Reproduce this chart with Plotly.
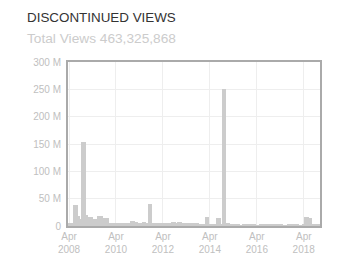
import plotly.graph_objects as go
import pandas as pd

title_text = "DISCONTINUED VIEWS"
subtitle_text = "Total Views 463,325,868"

# monthly views (millions), starting Apr 2008
start_month = "2008-04-01"
views_m = (
    [5, 5, 5, 39, 39, 18.5, 12, 153, 153, 20,
     16, 16, 16, 13, 13, 18, 18, 18, 14, 14,
     14, 5.5, 5.5, 5.5, 5.5, 5.5, 6, 6, 6, 6,
     6, 6, 10, 10, 7.5, 7.5, 5, 5, 7, 7,
     5, 41, 41, 5, 5, 5, 5, 5, 5, 5,
     6, 6, 6, 7.5, 7.5, 5, 7.5, 7.5, 5.5, 5.5,
     5.5, 5.5, 5.5, 5.5, 5, 5, 5, 3, 3, 3,
     17, 17, 3, 2, 2, 2, 14, 14, 2.5, 251,
     251, 6, 6, 2.5, 2.5, 2, 2.2, 2, 1.8, 2,
     2.2, 2.5, 2.5, 2.2, 2, 2, 1.8, 1.8, 2, 2,
     2.2, 2.5, 2.5, 2.2, 2, 2, 2, 2.2, 2.2, 2,
     1.8, 1.8, 2, 2.2, 2.5, 2.5, 2.2, 2, 1.8, 1.8,
     2, 17, 17, 14, 14, 2, 2, 2, 2]
)
months = pd.date_range(start_month, periods=len(views_m), freq="MS")
values = [v * 1e6 for v in views_m]

y_tick_vals = [0, 50e6, 100e6, 150e6, 200e6, 250e6, 300e6]
y_tick_text = ["0", "50 M", "100 M", "150 M", "200 M", "250 M", "300 M"]
x_tick_vals = ["2008-04-01", "2010-04-01", "2012-04-01", "2014-04-01", "2016-04-01", "2018-04-01"]
x_tick_text = ["Apr<br>2008", "Apr<br>2010", "Apr<br>2012", "Apr<br>2014", "Apr<br>2016", "Apr<br>2018"]

fig = go.Figure(go.Bar(x=months, y=values, marker=dict(color="#cccccc", line=dict(width=0))))

fig.update_layout(
    width=356, height=275,
    margin=dict(l=68, r=36, t=62, b=49),
    paper_bgcolor="white", plot_bgcolor="white",
    bargap=0, showlegend=False,
    font=dict(family="Liberation Sans, Arial, sans-serif", size=10, color="#c0c0c0"),
    annotations=[
        dict(text=title_text, x=25, y=17, xref="paper", yref="paper", showarrow=False,
             xanchor="left", yanchor="middle", font=dict(size=13.4, color="#333333")),
        dict(text=subtitle_text, x=25, y=38, xref="paper", yref="paper", showarrow=False,
             xanchor="left", yanchor="middle", font=dict(size=13.7, color="#cccccc")),
    ],
)
# convert pixel annotation positions to paper coords
pw, ph = 356 - 68 - 36, 275 - 62 - 49
for a in fig.layout.annotations:
    a.x = (a.x - 68) / pw
    a.y = (275 - 49 - a.y) / ph

fig.update_xaxes(
    range=["2008-03-16", "2018-12-10"],
    tickvals=x_tick_vals, ticktext=x_tick_text,
    showgrid=True, gridcolor="#eeeeee", gridwidth=1,
    showline=True, linecolor="#aaaaaa", linewidth=2, mirror=True,
    ticks="", zeroline=False,
)
fig.update_yaxes(
    range=[0, 300e6],
    tickvals=y_tick_vals, ticktext=y_tick_text,
    showgrid=True, gridcolor="#eeeeee", gridwidth=1,
    showline=True, linecolor="#aaaaaa", linewidth=2, mirror=True,
    ticks="", zeroline=False, ticklabelstandoff=3,
)

fig.write_html("out.html")
